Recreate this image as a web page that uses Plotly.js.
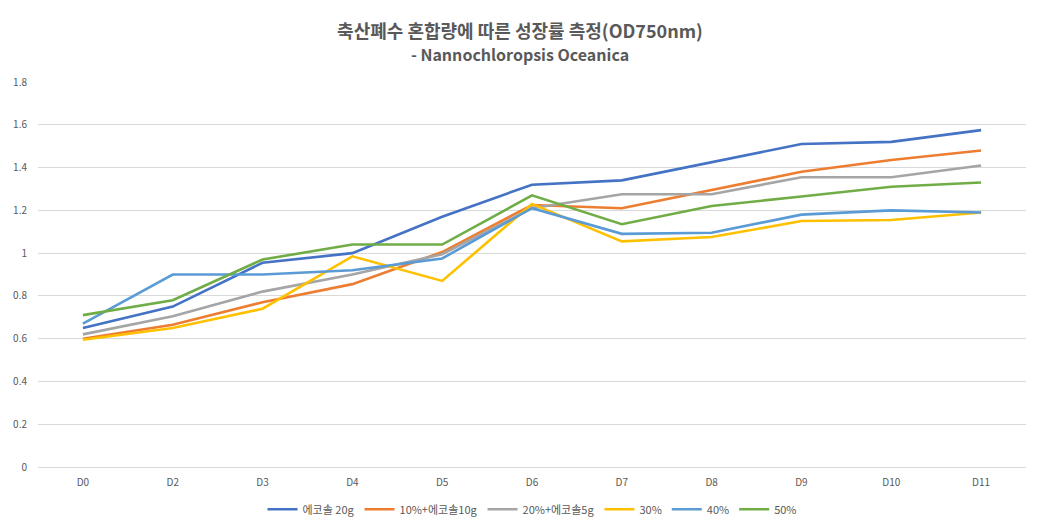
<!DOCTYPE html>
<html>
<head>
<meta charset="utf-8">
<script src="https://cdn.plot.ly/plotly-3.0.1.min.js"></script>
<style>
html,body{margin:0;padding:0;background:#fff;}
#chart{width:1040px;height:530px;outline:1px solid #d9d9d9;outline-offset:-1px;}
</style>
</head>
<body>
<div id="chart"></div>
<script>
const categories = ["D0","D2","D3","D4","D5","D6","D7","D8","D9","D10","D11"];
const seriesNames = ["에코솔 20g","10%+에코솔10g","20%+에코솔5g","30%","40%","50%"];
const ecosol20 = [0.65,0.75,0.955,1.0,1.17,1.32,1.34,1.425,1.51,1.52,1.575];
const p10ecosol10 = [0.60,0.665,0.77,0.855,1.005,1.225,1.21,1.295,1.38,1.435,1.48];
const p20ecosol5 = [0.62,0.705,0.82,0.90,0.995,1.21,1.275,1.275,1.355,1.355,1.41];
const p30 = [0.595,0.65,0.74,0.985,0.87,1.23,1.055,1.075,1.15,1.155,1.19];
const p40 = [0.67,0.90,0.90,0.92,0.975,1.21,1.09,1.095,1.18,1.20,1.19];
const p50 = [0.71,0.78,0.97,1.04,1.04,1.27,1.135,1.22,1.265,1.31,1.33];
const colors = ["#4472C4","#ED7D31","#A5A5A5","#FFC000","#5B9BD5","#70AD47"];
const allSeries = [ecosol20,p10ecosol10,p20ecosol5,p30,p40,p50];

const font = '"Noto Sans CJK KR", "Noto Sans", sans-serif';
const traces = allSeries.map((ys,i)=>({
  type:'scatter', mode:'lines', x:categories, y:ys, name:seriesNames[i],
  line:{color:colors[i], width:2.6}
}));

const layout = {
  width:1040, height:530,
  margin:{l:38, r:14, t:82, b:63, autoexpand:false},
  paper_bgcolor:'#fff', plot_bgcolor:'#fff',
  font:{family:font, color:'#595959', size:10},
  title:{
    text:'<b>축산폐수 혼합량에 따른 성장률 측정(OD750nm)</b><br><b><span style="font-size:16px">- Nannochloropsis Oceanica</span></b>',
    x:0.5, xanchor:'center', yref:'container', y:0.929, yanchor:'middle',
    font:{family:font, size:18, color:'#595959'}
  },
  xaxis:{
    type:'category', range:[-0.5,10.5], showgrid:false, zeroline:false,
    showline:false, ticks:'', ticklabelstandoff:8, tickfont:{size:10, color:'#595959'}
  },
  yaxis:{
    range:[0,1.8], dtick:0.2, showgrid:true, gridcolor:'#d9d9d9', gridwidth:1,
    zeroline:true, zerolinecolor:'#d9d9d9', zerolinewidth:1,
    showline:false, ticks:'', ticklabelstandoff:10, tickfont:{size:10, color:'#595959'}
  },
  legend:{
    orientation:'h', x:0.5, xanchor:'center', y:-0.072, yanchor:'top',
    font:{size:11, color:'#595959'}, itemwidth:30, tracegroupgap:0
  },
  showlegend:true
};
Plotly.newPlot('chart', traces, layout, {displayModeBar:false, staticPlot:true});
</script>
</body>
</html>
